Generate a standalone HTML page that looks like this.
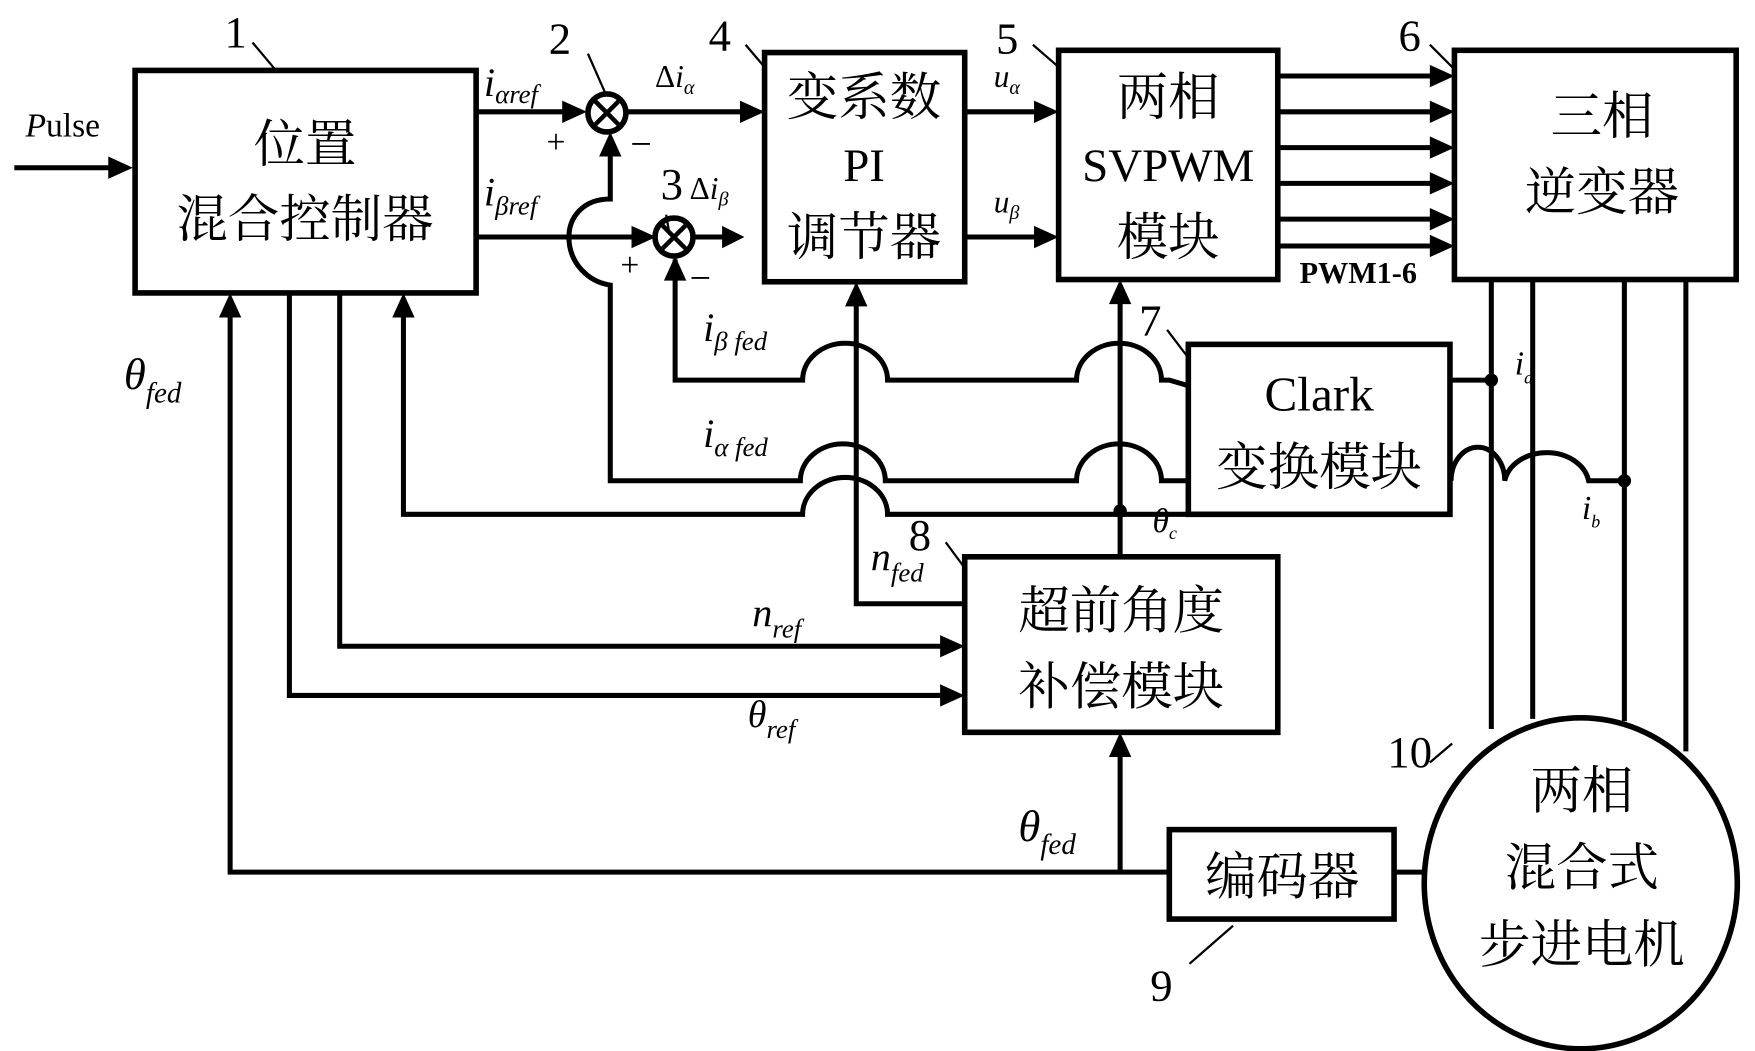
<!DOCTYPE html>
<html><head><meta charset="utf-8"><style>
html,body{margin:0;padding:0;background:#fff;}
svg{display:block;}
text{font-family:"Liberation Serif","Noto Serif CJK SC","Noto Sans CJK SC",serif;fill:#000;}
.cn{font-size:46px;}
.it{font-style:italic;}
</style></head><body>
<svg width="1755" height="1051" viewBox="0 0 1568 940" xmlns="http://www.w3.org/2000/svg">
<g fill="none" stroke="#000" stroke-width="5">
<rect x="120" y="63" width="305" height="199"/>
<rect x="683" y="47" width="179" height="205"/>
<rect x="946" y="45" width="196" height="205"/>
<rect x="1300" y="45" width="252" height="205"/>
<rect x="1062" y="308" width="234" height="152"/>
<rect x="862" y="498" width="280" height="157"/>
<rect x="1045" y="742" width="201" height="80"/>
<ellipse cx="1413" cy="790" rx="140" ry="148"/>
<circle cx="542" cy="101" r="17"/>
<circle cx="602" cy="212" r="17"/>
</g>
<g stroke="#000" stroke-width="4">
<line x1="530" y1="89" x2="554" y2="113"/><line x1="554" y1="89" x2="530" y2="113"/>
<line x1="590" y1="200" x2="614" y2="224"/><line x1="614" y1="200" x2="590" y2="224"/>
</g>
<g fill="none" stroke="#000" stroke-width="4.5">
<line x1="12" y1="150" x2="100" y2="150"/>
<line x1="425" y1="100" x2="508" y2="100"/>
<line x1="559" y1="100" x2="665" y2="100"/>
<line x1="425" y1="212" x2="570" y2="212"/>
<line x1="619" y1="212" x2="650" y2="212"/>
<path d="M545,135 V178 C520,178 508,195 508,212 C508,235 525,252 545,255 V430 H715 A38 33 0 0 1 791 430 H962 A38 33 0 0 1 1038 430 H1062"/>
<path d="M603,232 V340 H717 A38 33 0 0 1 793 340 H962 A38 33 0 0 1 1038 340 L1045 340 L1062 345"/>
<path d="M360,282 V460 H717 A38 33 0 0 1 793 460 H1062"/>
<line x1="1001" y1="270" x2="1001" y2="498"/>
<path d="M765,272 V540 H862"/>
<path d="M258,262 V622 H845"/>
<path d="M303,262 V578 H845"/>
<path d="M205,282 V780 H1045"/>
<line x1="1001" y1="780" x2="1001" y2="675"/>
<line x1="1246" y1="780" x2="1273" y2="780"/>
<line x1="862" y1="100" x2="930" y2="100"/>
<line x1="862" y1="212" x2="930" y2="212"/>
<line x1="1142" y1="68" x2="1282" y2="68"/>
<line x1="1142" y1="100" x2="1282" y2="100"/>
<line x1="1142" y1="132" x2="1282" y2="132"/>
<line x1="1142" y1="164" x2="1282" y2="164"/>
<line x1="1142" y1="196" x2="1282" y2="196"/>
<line x1="1142" y1="220" x2="1282" y2="220"/>
<line x1="1333" y1="250" x2="1333" y2="652"/>
<line x1="1370" y1="250" x2="1370" y2="643"/>
<line x1="1452" y1="250" x2="1452" y2="645"/>
<line x1="1507" y1="250" x2="1507" y2="672"/>
<line x1="1296" y1="340" x2="1333" y2="340"/>
<path d="M1297,430 A24 30 0 0 1 1345 430 A38 30 0 0 1 1420 430 H1452"/>
</g>
<g stroke="#000" stroke-width="2">
<line x1="225" y1="38" x2="246" y2="63"/>
<line x1="525" y1="48" x2="540" y2="82"/>
<line x1="666" y1="40" x2="683" y2="60"/>
<line x1="923" y1="40" x2="946" y2="60"/>
<line x1="1278" y1="40" x2="1300" y2="62"/>
<line x1="1043" y1="295" x2="1062" y2="320"/>
<line x1="845" y1="485" x2="862" y2="508"/>
<line x1="1063" y1="862" x2="1102" y2="828"/>
<line x1="1278" y1="682" x2="1298" y2="665"/>
<line x1="595" y1="192" x2="598" y2="210"/>
</g>
<g fill="#000">
<circle cx="1001" cy="457" r="6"/><circle cx="1333" cy="340" r="6"/><circle cx="1452" cy="430" r="6"/>
<polygon points="118,150 96,140 96,160"/>
<polygon points="524,100 502,90 502,110"/>
<polygon points="586,212 564,202 564,222"/>
<polygon points="683,100 661,90 661,110"/>
<polygon points="665,212 645,202 645,222"/>
<polygon points="545,118 535,140 555,140"/>
<polygon points="603,229 593,251 613,251"/>
<polygon points="946,100 924,90 924,110"/>
<polygon points="946,212 924,202 924,222"/>
<polygon points="360,262 350,284 370,284"/>
<polygon points="205,262 195,284 215,284"/>
<polygon points="765,252 755,274 775,274"/>
<polygon points="1001,250 991,272 1011,272"/>
<polygon points="1001,655 991,677 1011,677"/>
<polygon points="862,578 840,568 840,588"/>
<polygon points="862,622 840,612 840,632"/>
<polygon points="1300,68 1278,58 1278,78"/>
<polygon points="1300,100 1278,90 1278,110"/>
<polygon points="1300,132 1278,122 1278,142"/>
<polygon points="1300,164 1278,154 1278,174"/>
<polygon points="1300,196 1278,186 1278,206"/>
<polygon points="1300,220 1278,210 1278,230"/>
</g>
<text class="cn" x="272" y="145" text-anchor="middle">位置</text>
<text class="cn" x="272" y="212" text-anchor="middle">混合控制器</text>
<text class="cn" x="772" y="103" text-anchor="middle">变系数</text>
<text x="772" y="162" font-size="42" text-anchor="middle">PI</text>
<text class="cn" x="772" y="228" text-anchor="middle">调节器</text>
<text class="cn" x="1044" y="103" text-anchor="middle">两相</text>
<text x="1044" y="162" font-size="42" text-anchor="middle">SVPWM</text>
<text class="cn" x="1044" y="228" text-anchor="middle">模块</text>
<text class="cn" x="1432" y="120" text-anchor="middle">三相</text>
<text class="cn" x="1432" y="188" text-anchor="middle">逆变器</text>
<text x="1179" y="367" font-size="44" text-anchor="middle">Clark</text>
<text class="cn" x="1179" y="434" text-anchor="middle">变换模块</text>
<text class="cn" x="1002" y="562" text-anchor="middle">超前角度</text>
<text class="cn" x="1002" y="630" text-anchor="middle">补偿模块</text>
<text class="cn" x="1146" y="800" text-anchor="middle">编码器</text>
<text class="cn" x="1414" y="723" text-anchor="middle">两相</text>
<text class="cn" x="1414" y="792" text-anchor="middle">混合式</text>
<text class="cn" x="1414" y="861" text-anchor="middle">步进电机</text>
<text x="1214" y="253" font-size="27" font-weight="bold" text-anchor="middle">PWM1-6</text>
<g font-size="40">
<text x="200" y="42">1</text><text x="490" y="48">2</text><text x="590" y="178">3</text>
<text x="633" y="45">4</text><text x="890" y="48">5</text><text x="1250" y="45">6</text>
<text x="1018" y="300">7</text><text x="812" y="492">8</text><text x="1028" y="895">9</text>
<text x="1240" y="686">10</text>
</g>
<text x="22" y="122" font-size="30"><tspan class="it">P</tspan>ulse</text>
<text x="432" y="86" font-size="36" class="it">i<tspan font-size="24" dy="6">αref</tspan></text>
<text x="432" y="184" font-size="36" class="it">i<tspan font-size="24" dy="8">βref</tspan></text>
<text x="585" y="78" font-size="28">Δ<tspan class="it">i</tspan><tspan class="it" font-size="18" dy="6">α</tspan></text>
<text x="616" y="178" font-size="28">Δ<tspan class="it">i</tspan><tspan class="it" font-size="18" dy="6">β</tspan></text>
<text x="888" y="78" font-size="28" class="it">u<tspan font-size="18" dy="6">α</tspan></text>
<text x="888" y="190" font-size="28" class="it">u<tspan font-size="18" dy="6">β</tspan></text>
<text x="488" y="137" font-size="30">+</text><text x="563" y="140" font-size="34">−</text>
<text x="554" y="247" font-size="30">+</text><text x="616" y="260" font-size="34">−</text>
<text x="628" y="305" font-size="36" class="it">i<tspan font-size="24" dy="8">β fed</tspan></text>
<text x="628" y="400" font-size="36" class="it">i<tspan font-size="24" dy="8">α fed</tspan></text>
<text x="1030" y="476" font-size="30" class="it">θ<tspan font-size="16" dy="6">c</tspan></text>
<text x="1354" y="335" font-size="30" class="it">i<tspan font-size="16" dy="8">a</tspan></text>
<text x="1414" y="464" font-size="30" class="it">i<tspan font-size="16" dy="8">b</tspan></text>
<text x="110" y="348" font-size="40" class="it">θ<tspan font-size="26" dy="12">fed</tspan></text>
<text x="910" y="752" font-size="40" class="it">θ<tspan font-size="26" dy="12">fed</tspan></text>
<text x="778" y="510" font-size="36" class="it">n<tspan font-size="24" dy="10">fed</tspan></text>
<text x="672" y="560" font-size="36" class="it">n<tspan font-size="24" dy="10">ref</tspan></text>
<text x="668" y="650" font-size="34" class="it">θ<tspan font-size="24" dy="10">ref</tspan></text>
</svg>
</body></html>
